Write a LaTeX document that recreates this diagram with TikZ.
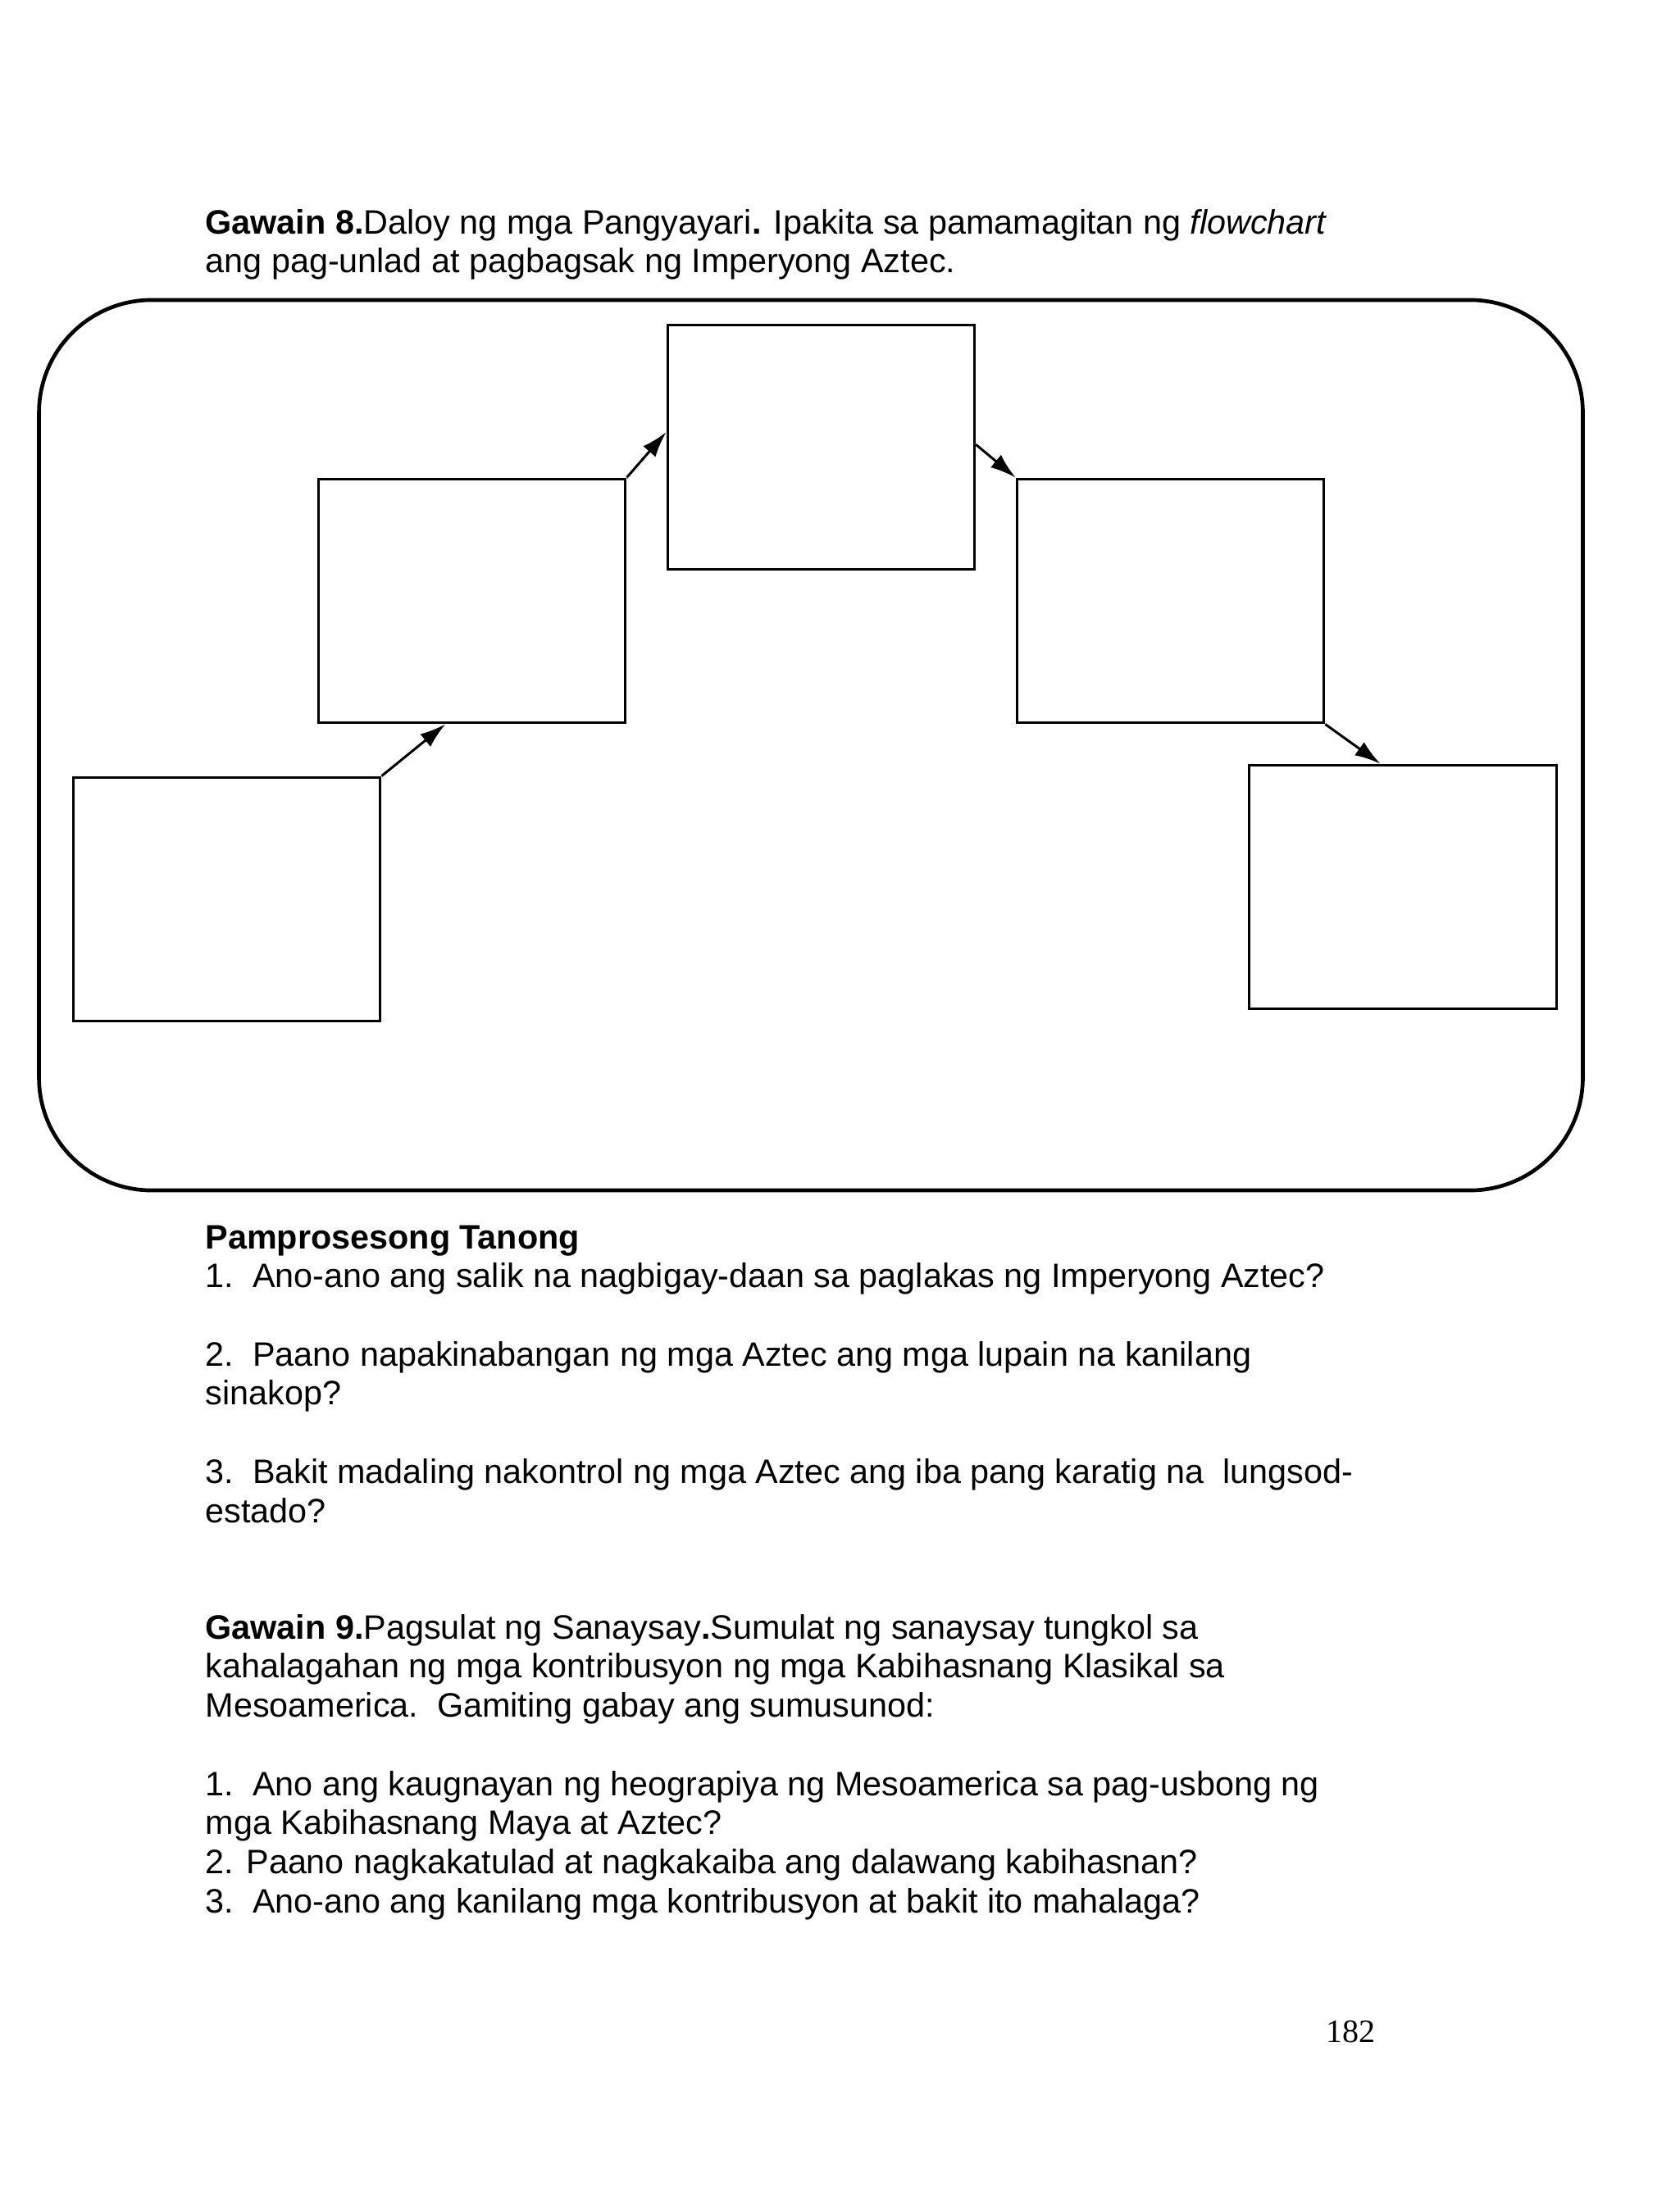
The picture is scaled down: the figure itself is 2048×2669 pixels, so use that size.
\documentclass[tikz,border=0pt]{standalone}
\usepackage{fontspec}
\setmainfont{Liberation Sans}
\newfontfamily\pagefont{Liberation Serif}
\usetikzlibrary{arrows.meta,positioning}
\tikzstyle{stage}=[
	rectangle,
	draw=black,
	line width=0.9pt,
	minimum width=39.5mm,
	minimum height=31.4mm,
	inner sep=0pt
]
\tikzstyle{flow}=[
	->,
	>={Latex[length=3.3mm,width=2.1mm]},
	line width=0.9pt
]
\tikzstyle{board}=[
	rectangle,
	draw=black,
	line width=1.4pt,
	rounded corners=14.5mm,
	minimum width=198.5mm,
	minimum height=114.5mm,
	inner sep=0pt
]
\tikzstyle{bodytext}=[
	anchor=base west,
	align=left,
	inner sep=0pt,
	font=\fontsize{12.4}{14.3}\selectfont
]

\begin{document}
\begin{tikzpicture}[x=0.10542mm, y=-0.10542mm]
\useasboundingbox (0,0) rectangle (2048,2669);
% base anchor sits on the last line
\node [bodytext] (Title) at (250,333) {\textbf{Gawain 8.}Daloy ng mga Pangyayari\textbf{.} Ipakita sa pamamagitan ng \textit{flowchart}\\ang pag-unlad at pagbagsak ng Imperyong Aztec.};
\node [board] (Board) at (989,909) {};
\node [stage] (Start) at (276.6,1097) {};
\node [stage] (Rise) at (575.5,733) {};
\node [stage] (Peak) at (1001.4,545.7) {};
\node [stage] (Decline) at (1427.5,733) {};
\node [stage] (Fall) at (1711,1082) {};
\draw [flow] (Start.north east) -- ([xshift=16.5mm]Rise.south west);
\draw [flow] (Rise.north east) -- ([yshift=-13.9mm]Peak.north west);
\draw [flow] ([yshift=-15.5mm]Peak.north east) -- (Decline.north west);
\draw [flow] (Decline.south east) -- ([xshift=17mm]Fall.north west);
\node [bodytext] (Questions) at (250,1857) {\textbf{Pamprosesong Tanong}\\1.\ \ Ano-ano ang salik na nagbigay-daan sa paglakas ng Imperyong Aztec?\\[14.3pt]2.\ \ Paano napakinabangan ng mga Aztec ang mga lupain na kanilang\\sinakop?\\[14.3pt]3.\ \ Bakit madaling nakontrol ng mga Aztec ang iba pang karatig na\ \ lungsod-\\estado?};
\node [bodytext] (Essay) at (250,2333) {\textbf{Gawain 9.}Pagsulat ng Sanaysay\textbf{.}Sumulat ng sanaysay tungkol sa\\kahalagahan ng mga kontribusyon ng mga Kabihasnang Klasikal sa\\Mesoamerica.\ \ Gamiting gabay ang sumusunod:\\[14.3pt]1.\ \ Ano ang kaugnayan ng heograpiya ng Mesoamerica sa pag-usbong ng\\mga Kabihasnang Maya at Aztec?\\2. Paano nagkakatulad at nagkakaiba ang dalawang kabihasnan?\\3.\ \ Ano-ano ang kanilang mga kontribusyon at bakit ito mahalaga?};
\node [bodytext, font=\pagefont\fontsize{12}{14.3}\selectfont] (PageNo) at (1617,2491) {182};
\end{tikzpicture}
\end{document}
